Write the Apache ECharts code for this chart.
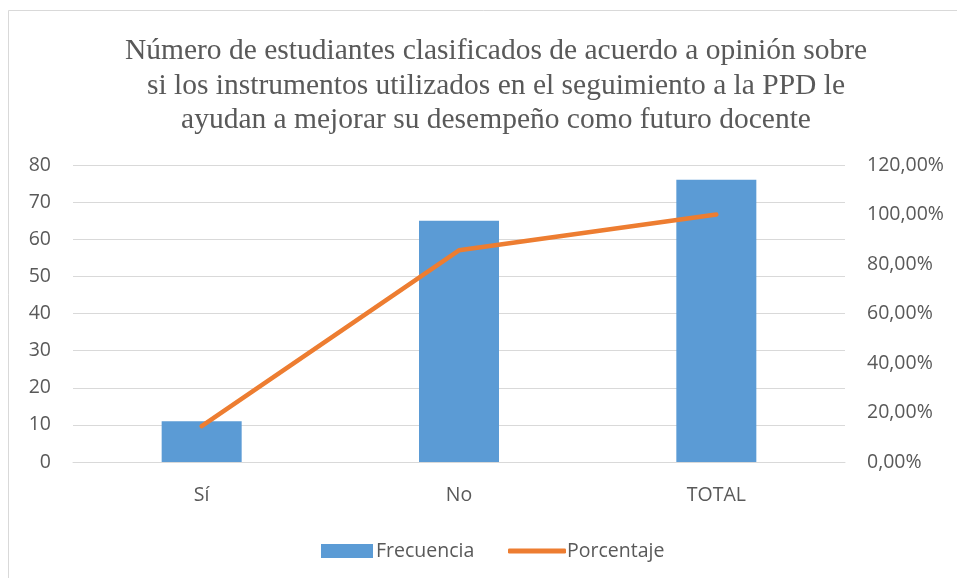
<!DOCTYPE html>
<html><head><meta charset="utf-8">
<script src="https://cdn.jsdelivr.net/npm/echarts@6/dist/echarts.min.js"></script>
<style>html,body{margin:0;padding:0;background:#fff}#c{width:957px;height:578px}</style>
</head><body><div id="c"></div>
<script>
const categories = ['Sí', 'No', 'TOTAL'];
const frecuencia = [11, 65, 76];
const porcentaje = [0.1447, 0.8553, 1.0];
const titleText = 'Número de estudiantes clasificados de acuerdo a opinión sobre\nsi los instrumentos utilizados en el seguimiento a la PPD le\nayudan a mejorar su desempeño como futuro docente';

const chart = echarts.init(document.getElementById('c'), null, {renderer: 'canvas'});
const font = '"Open Sans", "Noto Sans", sans-serif';
const labelFs = 19.5;
chart.setOption({
  animation: false,
  backgroundColor: '#fff',
  graphic: [{
    type: 'rect', shape: {x: 8.5, y: 10.5, width: 960, height: 580},
    style: {fill: 'none', stroke: '#d9d9d9', lineWidth: 1}, silent: true, z: -10
  }],
  title: {
    text: titleText, left: 491, top: 29, textAlign: 'center',
    textStyle: {fontFamily: '"Liberation Serif", "DejaVu Serif", serif', fontSize: 29.5, fontWeight: 'normal', color: '#595959', lineHeight: 34.5}
  },
  legend: [{
    top: 536, left: 316, itemWidth: 52, itemHeight: 14,
    textStyle: {fontFamily: font, fontSize: labelFs, color: '#595959', padding: [0, 0, 0, -2]},
    data: [{name: 'Frecuencia', icon: 'rect'}]
  }, {
    top: 536, left: 503, itemWidth: 58, itemHeight: 5,
    textStyle: {fontFamily: font, fontSize: labelFs, color: '#595959', padding: [0, 0, 0, -4]},
    data: [{name: 'Porcentaje', icon: 'roundRect'}]
  }],
  grid: {left: 73, right: 112, top: 165, bottom: 116},
  xAxis: {
    type: 'category', data: categories,
    axisLine: {lineStyle: {color: '#d9d9d9'}}, axisTick: {show: false},
    axisLabel: {fontFamily: font, fontSize: labelFs, color: '#595959', margin: 23}
  },
  yAxis: [{
    type: 'value', min: 0, max: 80, interval: 10,
    axisLabel: {fontFamily: font, fontSize: labelFs, color: '#595959', margin: 22},
    splitLine: {lineStyle: {color: '#d9d9d9', width: 1}}, axisLine: {show: false}, axisTick: {show: false}
  }, {
    type: 'value', min: 0, max: 1.2, interval: 0.2,
    axisLabel: {fontFamily: font, fontSize: labelFs, color: '#595959', margin: 22,
      formatter: v => (v * 100).toFixed(2).replace('.', ',') + '%'},
    splitLine: {show: false}, axisLine: {show: false}, axisTick: {show: false}
  }],
  series: [{
    name: 'Frecuencia', type: 'bar', data: frecuencia, barWidth: 80,
    itemStyle: {color: '#5B9BD5'}
  }, {
    name: 'Porcentaje', type: 'line', yAxisIndex: 1, data: porcentaje,
    showSymbol: false, symbol: 'none', lineStyle: {color: '#ED7D31', width: 4.5, cap: 'round'},
    itemStyle: {color: '#ED7D31'}
  }]
});
</script></body></html>
